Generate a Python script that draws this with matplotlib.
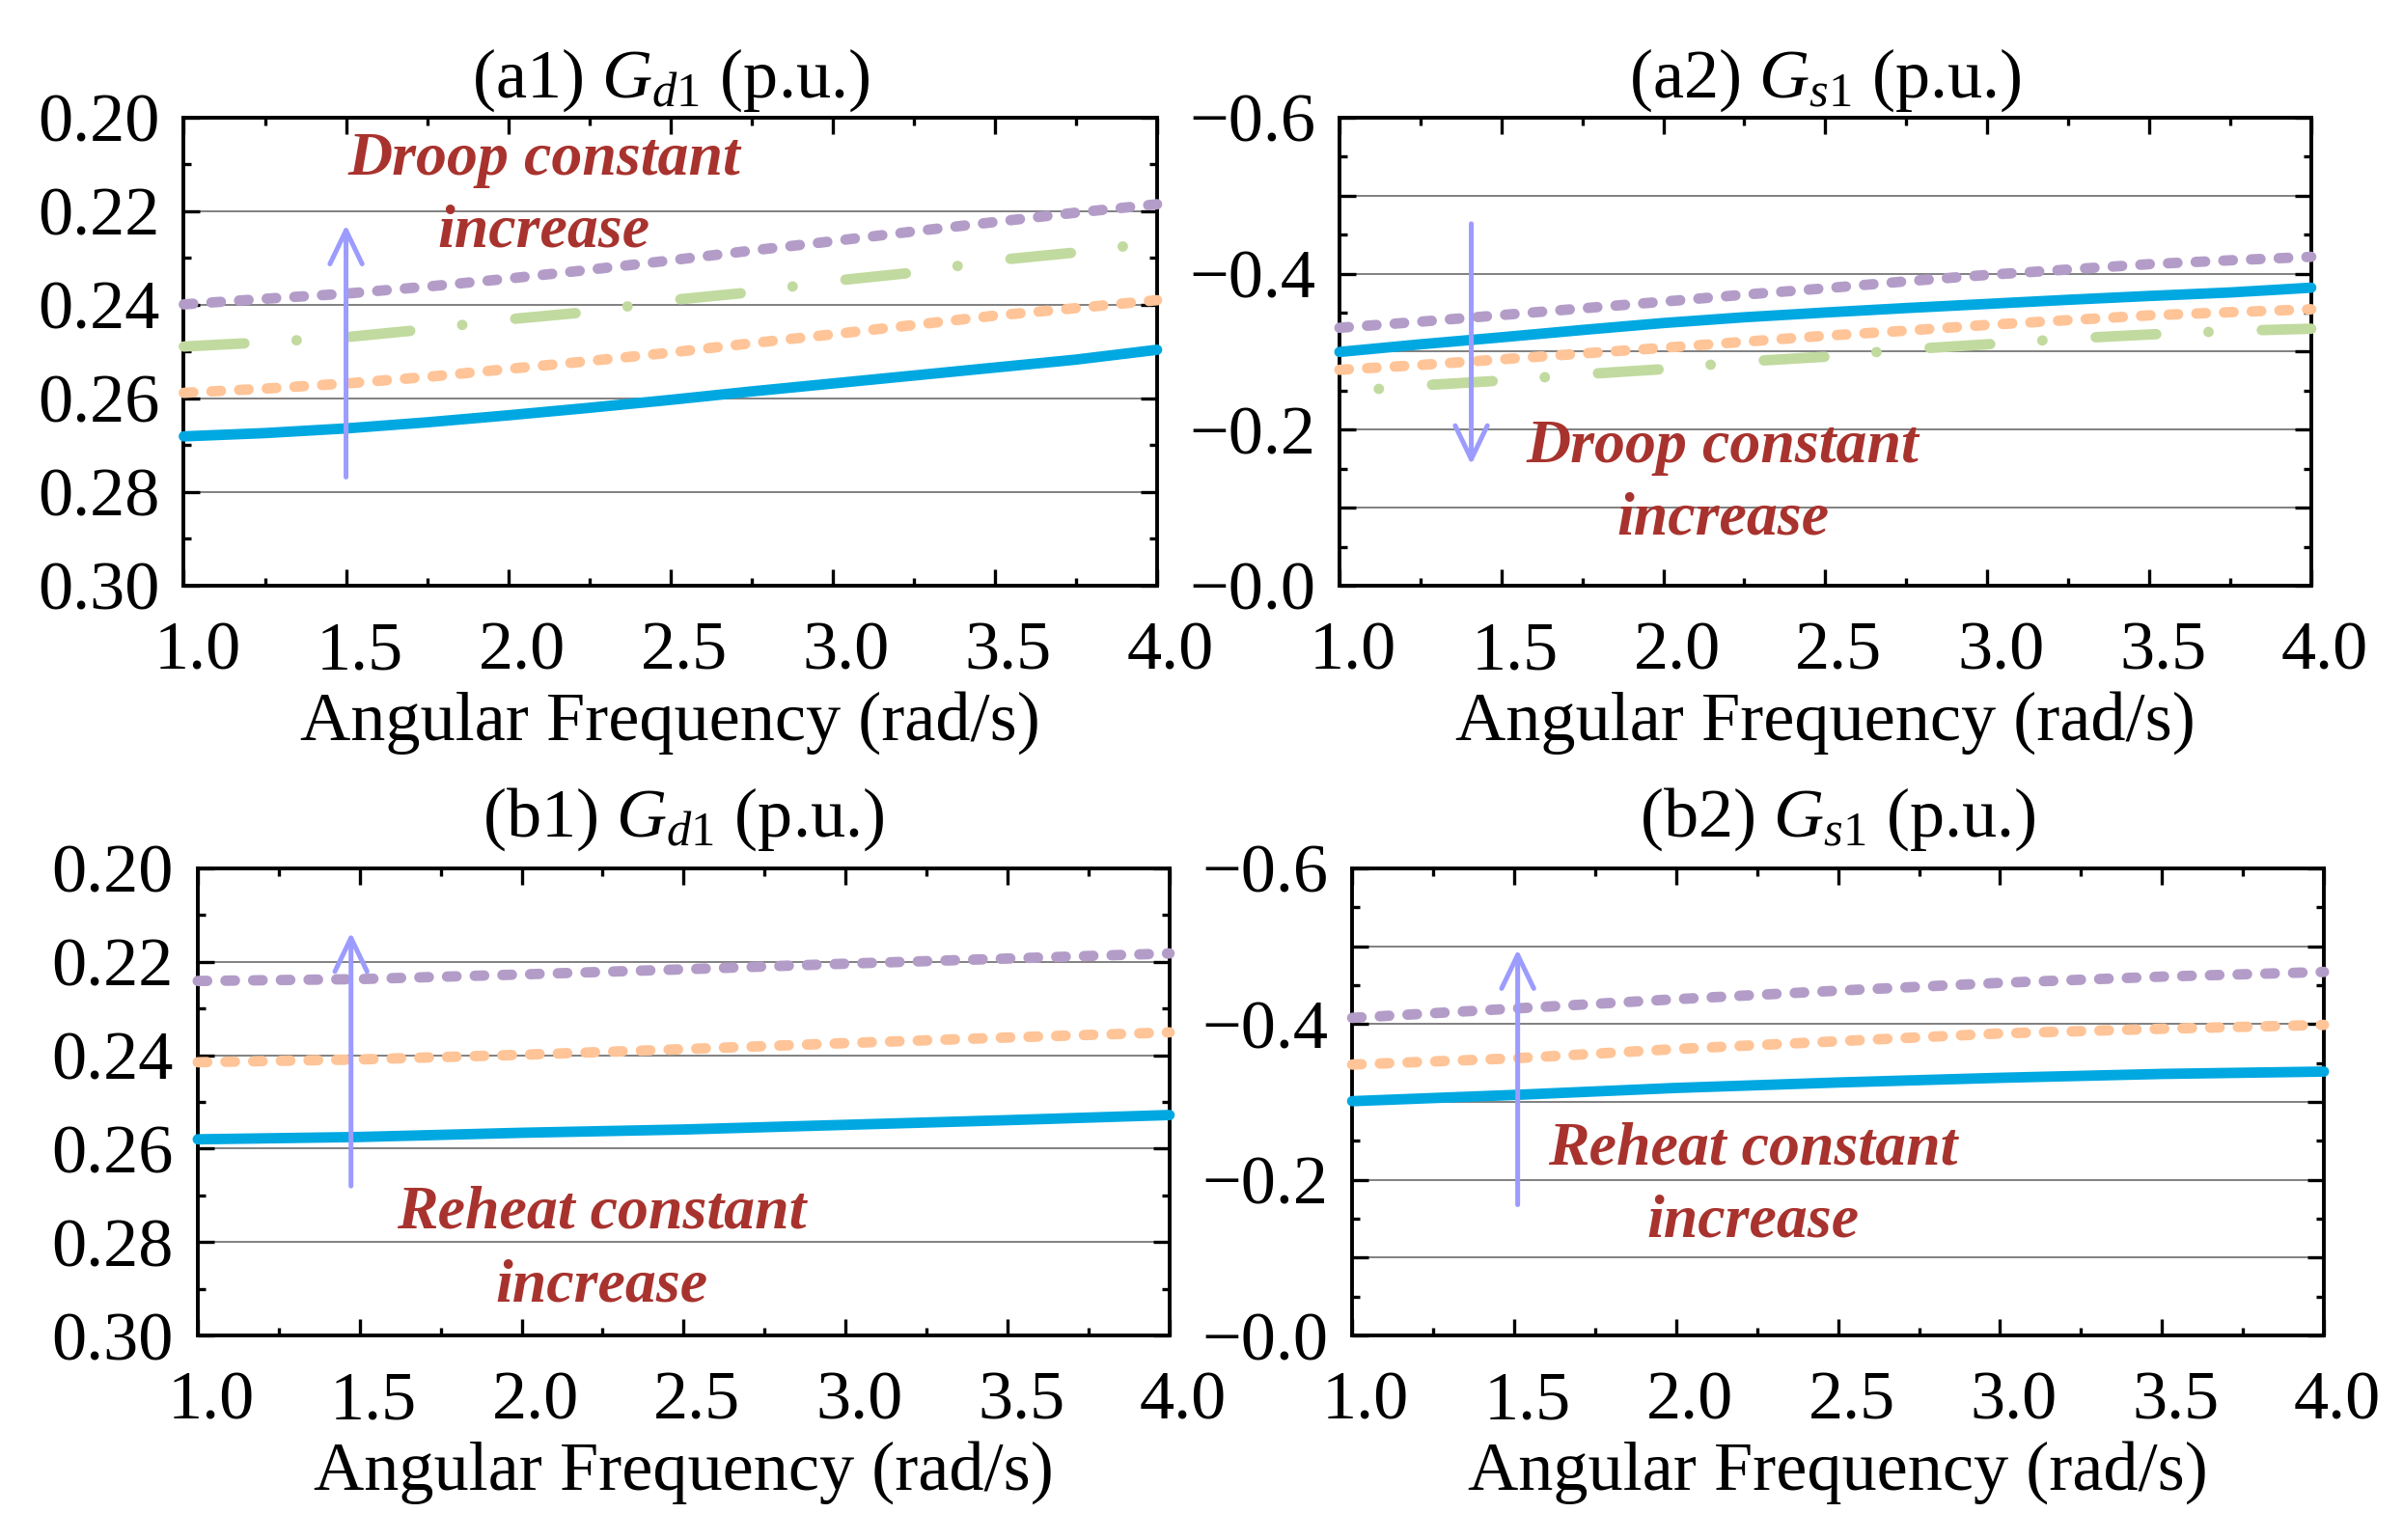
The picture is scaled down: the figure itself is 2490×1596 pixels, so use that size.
import numpy as np
import matplotlib
matplotlib.use("Agg")
import matplotlib.pyplot as plt
from matplotlib.ticker import MultipleLocator, FuncFormatter, FormatStrFormatter
from matplotlib.transforms import ScaledTranslation

plt.rcParams['font.family'] = ['Liberation Serif', 'DejaVu Serif']
plt.rcParams['mathtext.fontset'] = 'custom'
plt.rcParams['mathtext.rm'] = 'Liberation Serif'
plt.rcParams['mathtext.it'] = 'Liberation Serif:italic'

# values
freq_fine = [1.0, 1.25, 1.5, 1.75, 2.0, 2.25, 2.5, 2.75, 3.0, 3.25, 3.5, 3.75, 4.0]
freq = [1.0, 1.5, 2.0, 2.5, 3.0, 3.5, 4.0]

# (a1) G_d1, droop constant varies
a1_blue = [0.2681, 0.2674, 0.2664, 0.2651, 0.2636, 0.2620, 0.2603,
           0.2585, 0.2568, 0.2551, 0.2534, 0.2517, 0.2496]
a1_orange = [0.2588, 0.2579, 0.2568, 0.2554, 0.2537, 0.2520, 0.2502,
             0.2482, 0.2463, 0.2443, 0.2423, 0.2407, 0.2390]
a1_green = [0.2489, 0.2480, 0.2469, 0.2452, 0.2431, 0.2415, 0.2390,
            0.2373, 0.2349, 0.2331, 0.2305, 0.2288, 0.2266]
a1_purple = [0.2399, 0.2387, 0.2376, 0.2361, 0.2344, 0.2325, 0.2305,
             0.2284, 0.2264, 0.2243, 0.2223, 0.2203, 0.2185]

# (a2) G_s1, droop constant varies
a2_blue = [-0.2996, -0.3094, -0.3184, -0.3278, -0.3367, -0.3441, -0.3502,
           -0.3559, -0.3612, -0.3665, -0.3714, -0.3759, -0.3820]
a2_orange = [-0.2767, -0.2829, -0.2902, -0.2976, -0.3049, -0.3127, -0.3204,
             -0.3269, -0.3343, -0.3404, -0.3465, -0.3506, -0.3543]
a2_purple = [-0.3306, -0.3384, -0.3469, -0.3555, -0.3641, -0.3731, -0.3812,
             -0.3902, -0.3984, -0.4053, -0.4122, -0.4171, -0.4216]
freq_a2_green = [1.12, 1.25, 1.5, 1.75, 2.0, 2.25, 2.5, 2.75, 3.0, 3.25, 3.5, 3.75, 4.0]
a2_green = [-0.2522, -0.2567, -0.2629, -0.2710, -0.2776, -0.2873, -0.2935,
            -0.3029, -0.3094, -0.3167, -0.3220, -0.3265, -0.3294]

# (b1) G_d1, reheat constant varies
b1_blue = [0.2580, 0.2575, 0.2566, 0.2559, 0.2549, 0.2539, 0.2528]
b1_orange = [0.2415, 0.2409, 0.2399, 0.2387, 0.2374, 0.2362, 0.2351]
b1_purple = [0.2241, 0.2237, 0.2227, 0.2216, 0.2204, 0.2193, 0.2182]

# (b2) G_s1, reheat constant varies
b2_blue = [-0.301, -0.309, -0.318, -0.325, -0.331, -0.336, -0.339]
b2_orange = [-0.348, -0.356, -0.368, -0.378, -0.388, -0.394, -0.399]
b2_purple = [-0.408, -0.420, -0.432, -0.443, -0.453, -0.461, -0.467]

BLUE = '#00A8E1'
ORANGE = '#FFC497'
GREEN = '#C1DA9F'
PURPLE = '#B39DC8'
ARROW = '#9C9CFF'
NOTE = '#A8332E'
LW = 7.8
FS = 52

dotted = (0, (0.9, 1.75))
dashdot = (0, (5.8, 5.0, 0.01, 5.1))
dashdot_a2 = (10.75, (5.8, 5.0, 0.01, 5.1))


def style_axis(ax, kind):
    ax.set_xlim(1.0, 4.0)
    ax.xaxis.set_major_locator(MultipleLocator(0.5))
    ax.xaxis.set_minor_locator(MultipleLocator(0.25))
    ax.xaxis.set_major_formatter(FormatStrFormatter('%.1f'))
    if kind == 'd':
        ax.set_ylim(0.30, 0.20)
        ax.yaxis.set_major_locator(MultipleLocator(0.02))
        ax.yaxis.set_minor_locator(MultipleLocator(0.01))
        ax.yaxis.set_major_formatter(FormatStrFormatter('%.2f'))
    else:
        ax.set_ylim(0.0, -0.6)
        ax.yaxis.set_major_locator(MultipleLocator(0.1))
        ax.yaxis.set_minor_locator(MultipleLocator(0.05))
        ax.yaxis.set_major_formatter(FuncFormatter(
            lambda v, p: '\u2212%.1f' % abs(v) if round(v * 10) % 2 == 0 else ''))
    ax.yaxis.grid(True, color='#808080', lw=1.4)
    ax.set_axisbelow(True)
    ax.tick_params(which='both', direction='in', top=True, right=True,
                   width=2.4, labelsize=FS)
    ax.tick_params(which='major', length=12)
    ax.tick_params(which='minor', length=6)
    ax.tick_params(axis='x', pad=26)
    ax.tick_params(axis='y', pad=18)
    for s in ax.spines.values():
        s.set_linewidth(2.8)
    ax.set_xlabel('Angular Frequency (rad/s)', fontsize=FS, labelpad=6)
    shift = ScaledTranslation(0.14, 0, ax.figure.dpi_scale_trans)
    for lab in ax.get_xticklabels():
        lab.set_transform(lab.get_transform() + shift)


def curve(ax, x, y, color, ls):
    ax.plot(x, y, color=color, lw=LW, linestyle=ls, clip_on=False,
            solid_capstyle='round', dash_capstyle='round', zorder=3)


def note(ax, xc, y1, y2, text1, tail, tip):
    ax.annotate('', xy=tip, xytext=tail,
                arrowprops=dict(arrowstyle='->,head_length=1.25,head_width=0.6',
                                color=ARROW, lw=3.6, mutation_scale=20,
                                shrinkA=0, shrinkB=0), zorder=4)
    ax.text(xc, y1, text1, ha='center', va='baseline', fontsize=46,
            fontweight='bold', fontstyle='italic', color=NOTE, zorder=5)
    ax.text(xc, y2, 'increase', ha='center', va='baseline', fontsize=46,
            fontweight='bold', fontstyle='italic', color=NOTE, zorder=5)


fig = plt.figure(figsize=(24.9, 15.96), dpi=100)
ax1 = fig.add_axes([0.0765, 0.6197, 0.4050, 0.3039])
ax2 = fig.add_axes([0.5574, 0.6197, 0.4044, 0.3039])
ax3 = fig.add_axes([0.0823, 0.1328, 0.4044, 0.3033])
ax4 = fig.add_axes([0.5627, 0.1328, 0.4044, 0.3033])

# (a1)
curve(ax1, freq_fine, a1_blue, BLUE, '-')
curve(ax1, freq_fine, a1_orange, ORANGE, dotted)
curve(ax1, freq_fine, a1_green, GREEN, dashdot)
curve(ax1, freq_fine, a1_purple, PURPLE, dotted)
style_axis(ax1, 'd')
ax1.set_title(r'(a1) $G_{d1}$ (p.u.)', fontsize=FS, pad=15)
note(ax1, 2.11, 0.2121, 0.2276, 'Droop constant', (1.5, 0.2768), (1.5, 0.2229))

# (a2)
curve(ax2, freq_fine, a2_blue, BLUE, '-')
curve(ax2, freq_fine, a2_orange, ORANGE, dotted)
curve(ax2, freq_a2_green, a2_green, GREEN, dashdot_a2)
curve(ax2, freq_fine, a2_purple, PURPLE, dotted)
style_axis(ax2, 's')
ax2.set_title(r'(a2) $G_{s1}$ (p.u.)', fontsize=FS, pad=15)
note(ax2, 2.183, -0.158, -0.066, 'Droop constant', (1.407, -0.464), (1.407, -0.155))

# (b1)
curve(ax3, freq, b1_blue, BLUE, '-')
curve(ax3, freq, b1_orange, ORANGE, dotted)
curve(ax3, freq, b1_purple, PURPLE, dotted)
style_axis(ax3, 'd')
ax3.set_title(r'(b1) $G_{d1}$ (p.u.)', fontsize=FS, pad=24)
note(ax3, 2.246, 0.2770, 0.2926, 'Reheat constant', (1.473, 0.2680), (1.473, 0.2137))

# (b2)
curve(ax4, freq, b2_blue, BLUE, '-')
curve(ax4, freq, b2_orange, ORANGE, dotted)
curve(ax4, freq, b2_purple, PURPLE, dotted)
style_axis(ax4, 's')
ax4.set_title(r'(b2) $G_{s1}$ (p.u.)', fontsize=FS, pad=24)
note(ax4, 2.237, -0.220, -0.127, 'Reheat constant', (1.511, -0.168), (1.511, -0.496))

fig.savefig('out.png', dpi=100)
